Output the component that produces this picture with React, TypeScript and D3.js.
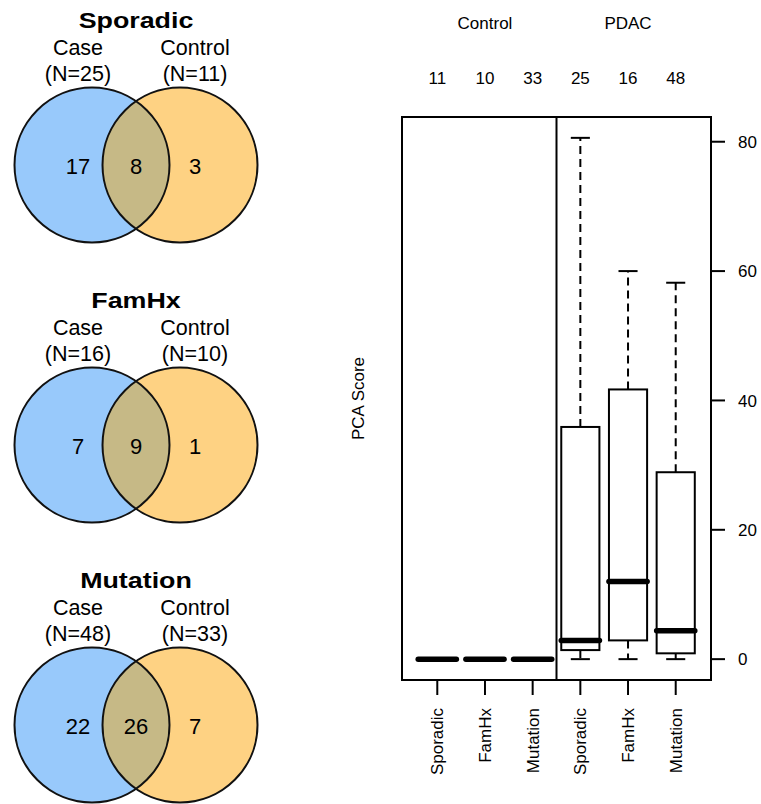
import React from 'react';
import * as d3 from 'd3';

const width = 761;
const height = 804;

// venn panels
const vennTitles = ['Sporadic', 'FamHx', 'Mutation'];
const caseN = [25, 16, 48];
const controlN = [11, 10, 33];
const caseOnly = [17, 7, 22];
const overlap = [8, 9, 26];
const controlOnly = [3, 1, 7];

// boxplot
const groups = ['Control', 'PDAC'];
const subtypes = ['Sporadic', 'FamHx', 'Mutation'];
const counts = [11, 10, 33, 25, 16, 48];
// [lower whisker, q1, median, q3, upper whisker]
const boxStats = [
  [0, 0, 0, 0, 0],
  [0, 0, 0, 0, 0],
  [0, 0, 0, 0, 0],
  [0, 1.4, 2.9, 35.9, 80.6],
  [0, 2.9, 12.0, 41.7, 60],
  [0, 0.9, 4.4, 28.9, 58.2],
];
const yTicks = [0, 20, 40, 60, 80];

const blue = '#98c9fb';
const orange = '#fed283';
const mixed = '#c6b986';
const font = '"Liberation Sans", Arial, Helvetica, sans-serif';

const padding = { left: 402, right: 50, top: 117, down: 124 };

function Venn({ i }: { i: number }) {
  const rowY = d3.scaleLinear().domain([0, 2]).range([0, 560]);
  const cx = d3.scaleLinear().domain([0, 1]).range([92, 180]);
  const labelX = d3.scaleLinear().domain([0, 1]).range([78, 195]);
  const r = 77.5;
  const oy = rowY(i);
  const cy = oy + 165;
  const clipId = `venn-clip-${i}`;
  return (
    <g>
      <defs>
        <clipPath id={clipId}>
          <circle cx={cx(0)} cy={cy} r={r} />
        </clipPath>
      </defs>
      <circle cx={cx(0)} cy={cy} r={r} fill={blue} />
      <circle cx={cx(1)} cy={cy} r={r} fill={orange} />
      <circle cx={cx(1)} cy={cy} r={r} fill={mixed} clipPath={`url(#${clipId})`} />
      <circle cx={cx(0)} cy={cy} r={r} fill="none" stroke="#111" strokeWidth={2} />
      <circle cx={cx(1)} cy={cy} r={r} fill="none" stroke="#111" strokeWidth={2} />
      <text transform={`translate(${(cx(0) + cx(1)) / 2},${oy + 28}) scale(1.22,1)`} textAnchor="middle"
        fontWeight="bold" fontSize={22}>{vennTitles[i]}</text>
      <text x={labelX(0)} y={oy + 55} textAnchor="middle" fontSize={21.5}>Case</text>
      <text x={labelX(1)} y={oy + 55} textAnchor="middle" fontSize={21.5}>Control</text>
      <text x={labelX(0)} y={oy + 81} textAnchor="middle" fontSize={21.5}>(N={caseN[i]})</text>
      <text x={labelX(1)} y={oy + 81} textAnchor="middle" fontSize={21.5}>(N={controlN[i]})</text>
      <text x={labelX(0)} y={cy + 9} textAnchor="middle" fontSize={22}>{caseOnly[i]}</text>
      <text x={(cx(0) + cx(1)) / 2} y={cy + 9} textAnchor="middle" fontSize={22}>{overlap[i]}</text>
      <text x={labelX(1)} y={cy + 9} textAnchor="middle" fontSize={22}>{controlOnly[i]}</text>
    </g>
  );
}

function BoxPlot() {
  const n = counts.length;
  const ext = (n - 1 + 0.8 + 0.2) * 0.04;
  const xScale = d3.scaleLinear()
    .domain([0.5 - ext, n + 0.5 + ext])
    .range([padding.left, width - padding.right]);
  const ymax = d3.max(boxStats, d => d[4]) as number;
  const yScale = d3.scaleLinear()
    .domain([-ymax * 0.04, ymax * 1.04])
    .range([height - padding.down, padding.top]);
  const x0 = xScale.range()[0];
  const x1 = xScale.range()[1];
  const yTop = yScale.range()[1];
  const yBot = yScale.range()[0];
  const bw = 0.4;
  const sw = 0.2;
  const fs = 17;
  return (
    <g fontSize={fs}>
      {groups.map((g, gi) => (
        <text key={g} x={xScale(gi * 3 + 2)} y={29} textAnchor="middle">{g}</text>
      ))}
      {counts.map((c, i) => (
        <text key={i} x={xScale(i + 1)} y={84} textAnchor="middle">{c}</text>
      ))}
      {boxStats.map((s, i) => {
        const p = i + 1;
        const xc = xScale(p);
        return (
          <g key={i}>
            <line x1={xc} x2={xc} y1={yScale(s[3])} y2={yScale(s[4])} stroke="#000" strokeWidth={2} strokeDasharray="8,5" />
            <line x1={xc} x2={xc} y1={yScale(s[1])} y2={yScale(s[0])} stroke="#000" strokeWidth={2} strokeDasharray="8,5" />
            <line x1={xScale(p - sw)} x2={xScale(p + sw)} y1={yScale(s[4])} y2={yScale(s[4])} stroke="#000" strokeWidth={2} />
            <line x1={xScale(p - sw)} x2={xScale(p + sw)} y1={yScale(s[0])} y2={yScale(s[0])} stroke="#000" strokeWidth={2} />
            <rect x={xScale(p - bw)} y={yScale(s[3])} width={xScale(p + bw) - xScale(p - bw)}
              height={yScale(s[1]) - yScale(s[3])} fill="#fff" stroke="#000" strokeWidth={2} />
            <line x1={xScale(p - bw)} x2={xScale(p + bw)} y1={yScale(s[2])} y2={yScale(s[2])} stroke="#000" strokeWidth={5.5} strokeLinecap="round" />
          </g>
        );
      })}
      {/* frame and group divider */}
      <rect x={x0} y={yTop} width={x1 - x0} height={yBot - yTop} fill="none" stroke="#000" strokeWidth={2} />
      <line x1={xScale(3.5)} x2={xScale(3.5)} y1={yTop} y2={yBot} stroke="#000" strokeWidth={2} />
      {/* right axis */}
      {yTicks.map(t => (
        <g key={t}>
          <line x1={x1} x2={x1 + 14} y1={yScale(t)} y2={yScale(t)} stroke="#000" strokeWidth={2} />
          <text x={x1 + 27} y={yScale(t)} dy="0.36em">{t}</text>
        </g>
      ))}
      {/* bottom axis */}
      {counts.map((c, i) => (
        <g key={i}>
          <line x1={xScale(i + 1)} x2={xScale(i + 1)} y1={yBot} y2={yBot + 15} stroke="#000" strokeWidth={2} />
          <text transform={`translate(${xScale(i + 1) + 6},${yBot + 28}) rotate(-90)`} textAnchor="end">
            {subtypes[i % 3]}
          </text>
        </g>
      ))}
      <text transform={`translate(364,${(yTop + yBot) / 2}) rotate(-90)`} textAnchor="middle">PCA Score</text>
    </g>
  );
}

export default function App() {
  return (
    <svg width={width} height={height} viewBox={`0 0 ${width} ${height}`}
      style={{ position: 'absolute', left: 0, top: 0, background: '#fff' }}
      fontFamily={font} fill="#000">
      <rect width={width} height={height} fill="#fff" />
      {vennTitles.map((t, i) => <Venn key={t} i={i} />)}
      <BoxPlot />
    </svg>
  );
}
